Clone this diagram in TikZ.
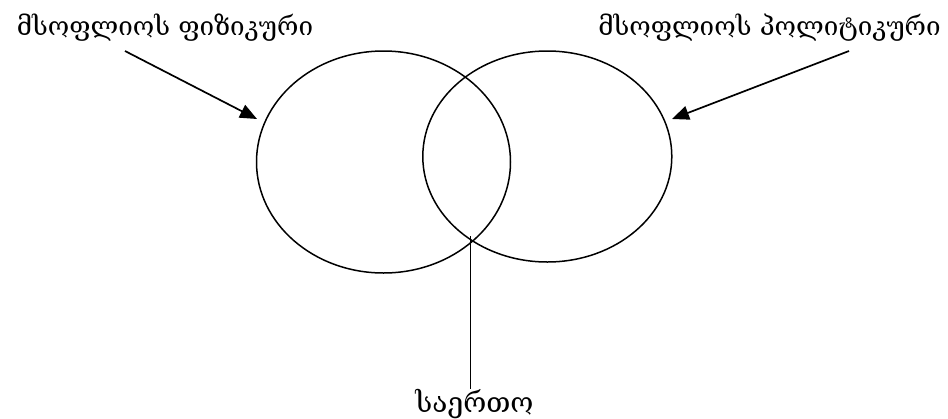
\documentclass[tikz,border=0pt]{standalone}
\usepackage{fontspec}
\newfontfamily\geo{DejaVu Serif}
\usetikzlibrary{shapes.geometric,arrows.meta}
\begin{document}
\begin{tikzpicture}[x=1pt,y=-1pt,
  lbl/.style={font=\geo\fontsize{26}{30}\selectfont, inner sep=0pt},
  lblb/.style={font=\geo\fontsize{28}{32}\selectfont, inner sep=0pt},
  circ/.style={draw, ellipse, line width=1.5pt, inner sep=0pt},
  arr/.style={-{Triangle[length=17pt,width=14pt]}, line width=1.7pt},
  ln/.style={line width=1.5pt}]
\useasboundingbox (0,0) rectangle (948,418);
\node[circ, minimum width=254pt, minimum height=222pt] (L) at (383.5,162) {};
\node[circ, minimum width=249pt, minimum height=211pt] (R) at (547.3,156.5) {};
\node[lbl] (tl) at (165,28) {მსოფლიოს ფიზიკური};
\node[lbl] (tr) at (769.5,28) {მსოფლიოს პოლიტიკური};
\node[lblb] (tc) at (474.5,404) {საერთო};
\coordinate (sl) at (125,51);
\coordinate (el) at (257,119);
\coordinate (sr) at (849,51);
\coordinate (er) at (672,119);
\coordinate (x) at (470.5,236);
\draw[arr] (sl) -- (el);
\draw[arr] (sr) -- (er);
\draw[ln] (x) -- (x |- tc.north);
\end{tikzpicture}
\end{document}
